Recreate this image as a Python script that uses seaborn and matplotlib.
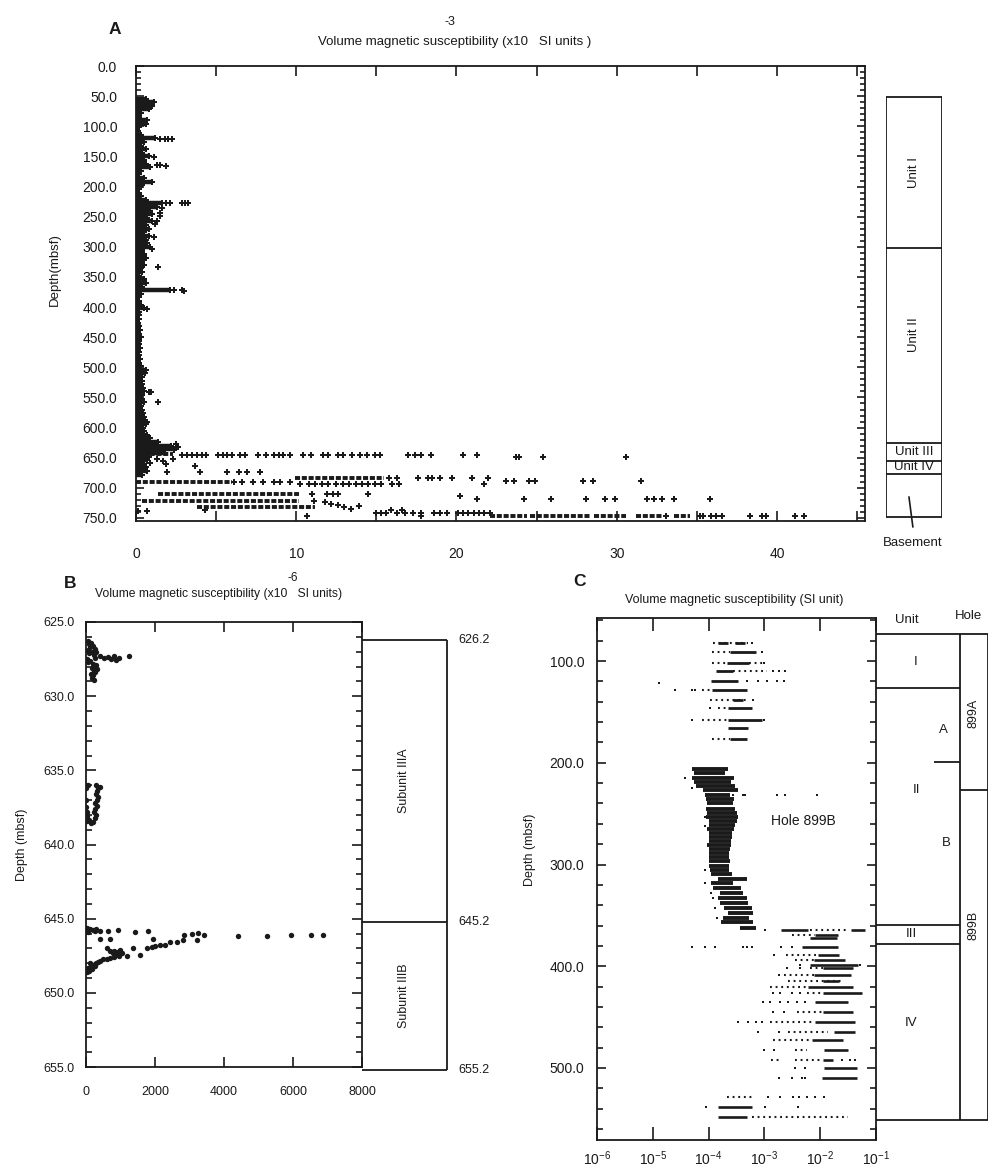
import numpy as np
import pandas as pd
import seaborn as sns
import matplotlib.pyplot as plt
from matplotlib.ticker import MultipleLocator, FuncFormatter, NullLocator, LogLocator

# ---------------- panel A : whole hole, x10^-3 SI ----------------
# near-zero column: depth of each row and right edge of the black band
a_col_depth = [54, 60, 66, 72, 78, 84, 90, 96, 102, 108,
               114, 120, 126, 132, 138, 144, 150, 156, 162, 168,
               174, 180, 186, 192, 198, 204, 210, 216, 222, 228,
               234, 240, 246, 252, 258, 264, 270, 276, 282, 288,
               294, 300, 306, 312, 318, 324, 330, 336, 342, 348,
               354, 360, 366, 372, 378, 384, 390, 396, 402, 408,
               414, 420, 426, 432, 438, 444, 450, 456, 462, 468,
               474, 480, 486, 492, 498, 504, 510, 516, 522, 528,
               534, 540, 546, 552, 558, 564, 570, 576, 582, 588,
               594, 600, 606, 612, 618, 624, 630, 636, 642, 648,
               654, 660, 666, 672, 678]
a_col_hi = [0.6, 1.1, 1.0, 0.8, 0.3, 0.2, 0.7, 0.6, 0.2, 0.15,
            0.3, 1.2, 0.5, 0.3, 0.6, 0.4, 0.8, 0.5, 0.6, 0.9,
            0.3, 0.2, 0.5, 1.0, 0.4, 0.2, 0.2, 0.3, 0.6, 1.6,
            1.3, 0.9, 1.0, 0.7, 1.0, 0.6, 0.8, 0.5, 0.8, 0.6,
            0.7, 0.9, 0.4, 0.5, 0.6, 0.4, 0.5, 0.3, 0.4, 0.2,
            0.5, 0.6, 0.4, 2.1, 0.3, 0.2, 0.2, 0.3, 0.5, 0.2,
            0.2, 0.2, 0.15, 0.2, 0.25, 0.2, 0.3, 0.2, 0.2, 0.25,
            0.2, 0.2, 0.25, 0.2, 0.3, 0.6, 0.55, 0.4, 0.35, 0.4,
            0.45, 0.5, 0.4, 0.35, 0.5, 0.3, 0.4, 0.45, 0.5, 0.55,
            0.6, 0.45, 0.5, 0.7, 0.9, 1.4, 2.2, 2.4, 1.8, 0.8,
            0.7, 0.5, 0.6, 0.7, 0.4]

# dense runs of overlapping points
a_run_depth = [644, 684, 690, 710, 722, 732, 746, 746, 746, 746, 746]
a_run_lo = [0.0, 9.9, 0.0, 1.4, 0.4, 3.8, 22.1, 24.6, 28.6, 31.2, 33.6]
a_run_hi = [2.3, 15.5, 6.0, 10.2, 10.2, 11.2, 24.4, 28.4, 30.6, 32.8, 34.6]

# single points, grouped by depth row
a_row_depth = [121, 151, 165, 166, 227, 228, 236, 244, 249, 258, 262, 283, 303, 334,
               372, 373, 404, 541, 558, 590, 628, 633, 638, 646, 649, 652, 655, 658,
               660, 664, 674, 684, 688, 690, 693, 710, 714, 719, 722, 724, 726, 729,
               730, 732, 735, 736, 737, 738, 741, 746, 747]
a_row_chi = [
    [1.5, 1.8, 2.0, 2.25], [1.1], [1.3, 1.5], [1.9], [1.9, 2.1], [2.9, 3.05, 3.25],
    [1.6], [1.5], [1.5], [1.3], [1.2], [1.1], [1.0], [1.4],
    [2.4, 2.85], [3.0], [0.7], [0.8, 0.95], [1.35], [0.7],
    [2.5], [2.6], [2.4],
    [2.85, 3.2, 3.5, 3.8, 4.1, 4.4, 5.1, 5.4, 5.7, 6.0, 6.5, 6.8, 7.6, 8.1, 8.6, 8.9,
     9.2, 9.6, 10.4, 10.9, 11.7, 12.0, 12.6, 12.9, 13.5, 14.0, 14.4, 14.9, 15.2, 17.0,
     17.4, 17.8, 18.4, 20.4, 21.3],
    [23.7, 23.9, 25.4, 30.6],
    [1.3, 2.3], [1.7], [0.9], [1.9], [3.7],
    [1.95, 4.0, 5.7, 6.4, 6.9, 7.75],
    [15.8, 16.3, 17.6, 18.2, 18.5, 19.0, 19.7, 21.0, 22.0],
    [23.1, 23.6, 24.5, 24.9, 27.9, 28.5, 31.5],
    [6.1, 6.6, 7.3, 7.9, 8.6, 9.0, 9.6],
    [10.25, 10.8, 11.2, 11.6, 12.0, 12.5, 12.9, 13.3, 13.7, 14.1, 14.5, 14.9, 15.3,
     16.0, 16.4, 21.7],
    [11.0, 11.9, 12.3, 12.6, 14.5],
    [20.25],
    [21.3, 24.2, 25.9, 28.1, 29.3, 29.9, 31.9, 32.3, 32.8, 33.6, 35.8],
    [11.1], [11.8], [12.2], [12.6], [13.9], [13.0], [13.4],
    [4.3], [15.9, 16.6], [0.15, 0.7],
    [15.0, 15.3, 15.6, 16.3, 16.8, 17.3, 17.8, 18.6, 19.0, 19.4, 20.1, 20.4, 20.7,
     21.1, 21.4, 21.7, 22.1],
    [33.1, 35.2, 35.4, 35.9, 36.2, 36.6, 38.3, 39.1, 39.3, 41.1, 41.7],
    [10.7, 17.8],
]

# unit column beside A
a_unit_edges = [51.4, 302, 626.2, 655.2, 677, 748]
a_unit_names = ['Unit I', 'Unit II', 'Unit III', 'Unit IV']
a_unit_label_depth = [176, 446, 640.7, 666]

# ---------------- panel B : unit III, x10^-6 SI ----------------
b_depth = [
    626.3, 626.4, 626.5, 626.6, 626.7, 626.8, 626.9, 627.0, 627.0, 627.1, 627.2,
    627.3, 627.45, 627.35, 627.5, 627.3, 627.55, 627.4, 627.3,
    627.5, 627.6, 627.45, 627.7, 627.8, 627.9, 628.0, 628.1, 628.2, 628.3, 628.4,
    628.5, 628.6, 628.75, 628.9,
    636.0, 636.0, 636.0, 636.1, 636.2, 636.2, 636.4, 636.6, 636.8, 637.0, 637.0,
    637.2, 637.4, 637.5, 637.6, 637.8, 637.8, 638.0, 638.0, 638.1, 638.2, 638.3,
    638.35, 638.4, 638.5, 638.55,
    645.65, 645.7, 645.75, 645.7, 645.8, 645.9, 645.85, 645.8, 645.75, 645.9, 645.8,
    646.1, 646.0, 645.95, 646.1, 646.15, 646.2, 646.1, 646.1, 646.1, 646.4, 646.4, 646.4,
    646.45, 646.45, 646.55, 646.6, 646.75, 646.8, 646.85, 646.9, 647.0, 647.0, 647.45,
    647.55, 647.1, 647.2, 647.3, 647.25, 647.15, 647.3, 647.0, 647.2, 647.4, 647.5,
    647.6, 647.65, 647.7, 647.75, 647.85, 647.9, 648.0, 648.05, 648.15, 648.2, 648.3,
    648.35, 648.45, 648.55, 648.0, 648.2, 648.4, 648.5, 648.6,
]
b_chi = [
    50, 150, 80, 200, 120, 250, 60, 180, 300, 100, 230,
    420, 520, 640, 720, 800, 860, 950, 1250,
    20, 120, 250, 60, 200, 300, 250, 180, 320, 220, 260,
    150, 200, 180, 230,
    0, 60, 300, 400, 360, 0, 330, 300, 350, 320, 10,
    270, 320, 0, 260, 230, 20, 300, 10, 30, 250, 20,
    100, 30, 200, 150,
    30, 120, 200, 300, 400, 60, 250, 640, 930, 1420, 1790,
    2850, 3070, 3240, 3420, 4410, 5250, 5940, 6520, 6870, 400, 700, 1950,
    3210, 2820, 2630, 2440, 2290, 2150, 2000, 1900, 1760, 1370, 1570,
    1180, 990, 990, 1050, 900, 800, 790, 600, 700, 850, 950,
    800, 700, 600, 500, 420, 350, 300, 250, 200, 150, 100,
    50, 30, 60, 120, 260, 180, 100, 20,
]
b_sub_edges = [626.2, 645.2, 655.2]
b_sub_names = ['Subunit IIIA', 'Subunit IIIB']

# ---------------- panel C : hole 899B, SI ----------------
# solid streaks (dense dots)
c1_run_depth = [82, 82, 91, 102, 110, 120, 128.5, 138, 146.5, 158, 166, 177]
c1_run_lo = [1.5e-4, 3.0e-4, 2.4e-4, 2.1e-4, 1.35e-4, 1.1e-4, 1.13e-4, 2.75e-4, 2.2e-4, 2.2e-4, 2.2e-4, 2.4e-4]
c1_run_hi = [2.2e-4, 4.5e-4, 7.2e-4, 5.4e-4, 2.75e-4, 3.4e-4, 4.8e-4, 4.2e-4, 5.9e-4, 8.9e-4, 5.1e-4, 4.8e-4]

c2_run_depth = [206, 210, 215, 219, 223, 227, 232, 236, 240, 245,
                249, 253, 257, 261, 265, 269, 273, 277, 281, 285,
                289, 293, 297, 301, 305, 309, 314, 318, 323, 328,
                333, 338, 343, 348, 353, 357, 362]
c2_run_lo = [5.0e-5, 5.5e-5, 5.0e-5, 5.5e-5, 6.0e-5, 8.0e-5, 8.7e-5, 9.0e-5, 9.3e-5, 9.0e-5,
             9.3e-5, 9.0e-5, 1.0e-4, 1.0e-4, 9.5e-5, 1.0e-4, 1.0e-4, 1.0e-4, 9.5e-5, 1.0e-4,
             1.0e-4, 1.0e-4, 1.0e-4, 1.0e-4, 1.05e-4, 1.1e-4, 1.5e-4, 1.1e-4, 1.2e-4, 1.6e-4,
             1.5e-4, 1.6e-4, 1.9e-4, 2.2e-4, 1.8e-4, 1.7e-4, 3.6e-4]
c2_run_hi = [2.2e-4, 2.0e-4, 2.8e-4, 2.5e-4, 3.0e-4, 3.3e-4, 2.4e-4, 2.8e-4, 2.7e-4, 3.0e-4,
             3.2e-4, 3.4e-4, 3.2e-4, 3.0e-4, 2.8e-4, 2.6e-4, 2.6e-4, 2.5e-4, 2.5e-4, 2.4e-4,
             2.3e-4, 2.3e-4, 2.4e-4, 2.3e-4, 2.3e-4, 2.6e-4, 4.8e-4, 2.7e-4, 3.8e-4, 4.2e-4,
             4.8e-4, 5.0e-4, 5.9e-4, 6.3e-4, 5.4e-4, 6.3e-4, 7.2e-4]

c4_run_depth = [364, 364, 369, 372.6, 381, 389, 394, 399, 402, 408.6, 415, 420, 426, 435,
                444.7, 454.5, 464.3, 472.5, 482.3, 492.1, 500.3, 510.1, 538.6, 548.4]
c4_run_lo = [2.0e-3, 3.6e-2, 8e-3, 6.6e-3, 4.7e-3, 9e-3, 7.6e-3, 6.6e-3, 1.1e-2, 7.6e-3, 1.1e-2,
             6e-3, 1.1e-2, 8.1e-3, 1.1e-2, 8e-3, 1.8e-2, 7e-3, 1.15e-2, 1.1e-2, 1.15e-2, 1.07e-2,
             1.5e-4, 1.5e-4]
c4_run_hi = [6.0e-3, 6.3e-2, 2.1e-2, 2.0e-2, 2.1e-2, 2.2e-2, 2.75e-2, 4.8e-2, 3.9e-2, 3.6e-2,
             2.2e-2, 3.9e-2, 5.5e-2, 3.2e-2, 3.9e-2, 4.2e-2, 4.2e-2, 2.6e-2, 3.2e-2, 1.7e-2,
             4.5e-2, 4.5e-2, 5.9e-4, 4.8e-4]

# dotted streaks (loose dots)
c_dot_depth = [82, 91, 102, 102, 110, 128.5, 138, 146.5, 158, 177,
               364, 369, 389, 394, 402, 408.6, 415, 420, 426, 444.7, 454.5, 464.3,
               472.5, 482.3, 492.1, 492.1, 529, 548.4]
c_dot_lo = [1.2e-4, 1.13e-4, 1.13e-4, 5.4e-4, 2.75e-4, 7.6e-5, 1.06e-4, 1.5e-4, 7.6e-5, 1.13e-4,
            6.6e-3, 3.1e-3, 2.4e-3, 3.5e-3, 6.6e-3, 2.2e-3, 2.7e-3, 1.26e-3, 5.8e-3, 3.8e-3,
            1.26e-3, 2.7e-3, 1.45e-3, 3.5e-3, 1.3e-3, 3.5e-3, 2.1e-4, 6.0e-4]
c_dot_hi = [5.1e-4, 2.4e-4, 2.1e-4, 1.0e-3, 1.1e-3, 1.1e-4, 5.4e-4, 2.2e-4, 2.2e-4, 2.4e-4,
            3.2e-2, 8e-3, 9e-3, 7.6e-3, 1.1e-2, 7.6e-3, 2.6e-2, 6e-3, 1.1e-2, 1.1e-2,
            8e-3, 1.4e-2, 7e-3, 5.8e-3, 2.0e-3, 1.1e-2, 5.9e-4, 3.2e-2]

# isolated dots, grouped by depth row
c_row_depth = [82, 91, 102, 110, 120, 122, 128.5, 138, 146.5, 158,
               215, 225, 232, 253, 262, 305, 318, 328, 333, 343, 353,
               364, 381, 389, 399, 402, 408.6, 426, 435, 444.7, 454.5, 464.3,
               482.3, 492.1, 500.3, 510.1, 529, 538.6]
c_row_chi = [
    [5.9e-4], [8.9e-4], [1.0e-3], [1.45e-3, 1.8e-3, 2.35e-3],
    [4.8e-4, 7.8e-4, 1.1e-3, 1.66e-3, 2.2e-3], [1.3e-5], [2.5e-5, 5.0e-5, 5.8e-5],
    [6.3e-4], [1.06e-4], [5.0e-5, 1.0e-3],
    [3.8e-5], [5.0e-5], [2.75e-4, 4.2e-4, 4.5e-4, 1.66e-3, 2.3e-3, 8.7e-3],
    [8.7e-5], [8.7e-5], [8.7e-5], [8.7e-5], [1.1e-4], [1.2e-4], [1.3e-4], [1.4e-4],
    [1.02e-3], [5.0e-5, 8.7e-5, 1.3e-4, 4.2e-4, 4.8e-4, 6.0e-4, 2.0e-3, 3.1e-3],
    [1.5e-3], [4.4e-3, 5.1e-2], [2.5e-3, 4.4e-3], [1.8e-3],
    [1.45e-3, 1.9e-3, 3.1e-3, 4.4e-3], [9.5e-4, 1.26e-3, 1.9e-3, 2.7e-3, 3.8e-3, 5.4e-3],
    [1.45e-3, 2.2e-3], [3.4e-4, 5.1e-4, 7.2e-4, 8.9e-4], [7.8e-4, 1.8e-3],
    [1.0e-3, 1.5e-3], [2.45e-2, 3.4e-2, 4.2e-2], [3.5e-3, 5.4e-3],
    [1.8e-3, 3.1e-3, 4.7e-3, 5.4e-3], [1.17e-3, 1.9e-3, 3.3e-3, 4.1e-3, 5.8e-3, 8.1e-3, 1.15e-2],
    [9.1e-5, 1.02e-3, 4.0e-3],
]

# unit / hole columns beside C
c_unit_edges = [73.5, 126.5, 359.5, 378.1, 551]
c_sub_edge = 199.3
c_hole_edges = [73.5, 226.8, 551]
c_unit_names = ['I', 'A', 'II', 'B', 'III', 'IV']
c_unit_label_depth = [101, 168, 227, 279, 368, 456]
c_unit_label_x = [0.35, 0.6, 0.36, 0.625, 0.32, 0.31]
c_hole_names = ['899A', '899B']
c_hole_label_depth = [151, 360]


def rows_frame(depths, rows):
    sizes = [len(r) for r in rows]
    return pd.DataFrame({'depth': np.repeat(depths, sizes), 'chi': np.concatenate(rows)})


sns.set_theme(style="ticks")
plt.rcParams['font.family'] = ['Liberation Sans', 'DejaVu Sans']
plt.rcParams['mathtext.default'] = 'regular'

INK = '#1a1a1a'
W, H = 1004, 1175


def box(l, t, r, b):
    return [l / W, 1 - b / H, (r - l) / W, (b - t) / H]


def style_axes(ax):
    for s in ax.spines.values():
        s.set_color(INK)
        s.set_linewidth(1.3)
    ax.set_xlabel('')
    ax.set_ylabel('')


fig = plt.figure(figsize=(W / 100, H / 100), dpi=100)
fig.patch.set_facecolor('white')

# ---- A ----
axA = fig.add_axes(box(136, 66, 865, 521))
axA.hlines(a_col_depth, 0, a_col_hi, color=INK, lw=3.2)
# beaded look for the deep rows of overlapping '+' marks
axA.hlines(a_run_depth, a_run_lo, a_run_hi, color=INK, lw=2.8, linestyles=[(0, (1.3, 0.45))])
sns.scatterplot(x=a_col_hi, y=a_col_depth, marker='P', s=16, color=INK, linewidth=0, ax=axA)
dfa = rows_frame(a_row_depth, a_row_chi)
sns.scatterplot(data=dfa, x='chi', y='depth', marker='P', s=16, color=INK, linewidth=0, ax=axA)
axA.set_xlim(0, 45.5)
axA.set_ylim(755, 0)
axA.xaxis.set_major_locator(MultipleLocator(5))
axA.xaxis.set_major_formatter(FuncFormatter(lambda v, p: f'{v:.0f}' if round(v) % 10 == 0 else ''))
axA.yaxis.set_major_locator(MultipleLocator(50))
axA.yaxis.set_minor_locator(MultipleLocator(10))
axA.yaxis.set_major_formatter(FuncFormatter(lambda v, p: f'{v:.1f}'))
axA.tick_params(which='both', direction='in', top=True, right=True, color=INK, width=1.2,
                labelcolor=INK, labelsize=10)
axA.tick_params(axis='x', which='major', length=7.5, pad=19)
axA.tick_params(axis='y', which='major', length=6, pad=13.5)
axA.tick_params(axis='y', which='minor', length=3.5)
style_axes(axA)

colA = fig.add_axes(box(886, 66, 942, 521))
colA.set_xlim(0, 1)
colA.set_ylim(755, 0)
colA.axis('off')
colA.hlines(a_unit_edges, 0, 1, color=INK, lw=1.3)
colA.vlines([0, 1], a_unit_edges[0], a_unit_edges[-1], color=INK, lw=1.3)
for name, d in zip(a_unit_names, a_unit_label_depth):
    rot = 90 if name in ('Unit I', 'Unit II') else 0
    colA.text(0.5, d, name, rotation=rot, ha='center', va='center', fontsize=9.5, color=INK)
colA.plot([0.41, 0.48], [715, 765], color=INK, lw=1.2, clip_on=False)
colA.text(0.48, 792, 'Basement', ha='center', va='center', fontsize=9.5, color=INK, clip_on=False)

fig.text(115 / W, 1 - 30 / H, 'A', fontsize=12.5, fontweight='bold', ha='center', va='center', color=INK)
fig.text(455 / W, 1 - 42 / H, 'Volume magnetic susceptibility (x10   SI units )', fontsize=9.5,
         ha='center', va='center', color=INK)
fig.text(450 / W, 1 - 22 / H, '-3', fontsize=9, ha='center', va='center', color=INK)
fig.text(55 / W, 1 - 270 / H, 'Depth(mbsf)', rotation=90, fontsize=9.5, ha='center', va='center', color=INK)

# ---- B ----
axB = fig.add_axes(box(86, 622, 362, 1067))
sns.scatterplot(x=b_chi, y=b_depth, marker='o', s=15, color=INK, linewidth=0, ax=axB)
axB.set_xlim(0, 8000)
axB.set_ylim(655, 625)
axB.xaxis.set_major_locator(MultipleLocator(2000))
axB.yaxis.set_major_locator(MultipleLocator(5))
axB.yaxis.set_minor_locator(MultipleLocator(1))
axB.yaxis.set_major_formatter(FuncFormatter(lambda v, p: f'{v:.1f}'))
axB.tick_params(which='both', direction='in', top=True, right=True, color=INK, width=1.2,
                labelcolor=INK, labelsize=9)
axB.tick_params(axis='x', which='major', length=7.5, pad=13.5)
axB.tick_params(axis='y', which='major', length=7.5, pad=8)
axB.tick_params(axis='y', which='minor', length=4.5)
style_axes(axB)

colB = fig.add_axes(box(362, 622, 447, 1067))
colB.set_xlim(0, 1)
colB.set_ylim(655, 625)
colB.axis('off')
colB.hlines(b_sub_edges, 0, 1, color=INK, lw=1.3, clip_on=False)
colB.vlines([1], b_sub_edges[0], b_sub_edges[-1], color=INK, lw=1.3, clip_on=False)
for d in b_sub_edges:
    colB.text(1.13, d, f'{d:.1f}', ha='left', va='center', fontsize=9, color=INK, clip_on=False)
for i, name in enumerate(b_sub_names):
    mid = (b_sub_edges[i] + b_sub_edges[i + 1]) / 2
    colB.text(0.49, mid, name, rotation=90, ha='center', va='center', fontsize=9, color=INK)

fig.text(70 / W, 1 - 583 / H, 'B', fontsize=12.5, fontweight='bold', ha='center', va='center', color=INK)
fig.text(219 / W, 1 - 594 / H, 'Volume magnetic susceptibility (x10   SI units)', fontsize=8.7,
         ha='center', va='center', color=INK)
fig.text(293 / W, 1 - 578 / H, '-6', fontsize=8.5, ha='center', va='center', color=INK)
fig.text(22 / W, 1 - 845 / H, 'Depth (mbsf)', rotation=90, fontsize=9, ha='center', va='center', color=INK)

# ---- C ----
axC = fig.add_axes(box(597, 618, 876, 1140))
axC.set_xscale('log')
axC.hlines(c1_run_depth, c1_run_lo, c1_run_hi, color=INK, lw=2.0)
axC.hlines(c2_run_depth, c2_run_lo, c2_run_hi, color=INK, lw=2.8)
axC.hlines(c4_run_depth, c4_run_lo, c4_run_hi, color=INK, lw=1.9)
axC.hlines(c_dot_depth, c_dot_lo, c_dot_hi, color=INK, lw=1.5, linestyles=[(0, (0.9, 1.8))])
dfc = rows_frame(c_row_depth, c_row_chi)
sns.scatterplot(data=dfc, x='chi', y='depth', marker='s', s=3.5, color=INK, linewidth=0, ax=axC)
axC.set_xlim(1e-6, 1e-1)
axC.set_ylim(570.8, 57.7)
axC.xaxis.set_major_locator(LogLocator(base=10, numticks=10))
axC.xaxis.set_minor_locator(NullLocator())
axC.xaxis.set_major_formatter(FuncFormatter(lambda v, p: f'$10^{{{int(round(np.log10(v)))}}}$'))
axC.yaxis.set_major_locator(MultipleLocator(100))
axC.yaxis.set_minor_locator(MultipleLocator(20))
axC.yaxis.set_major_formatter(FuncFormatter(lambda v, p: f'{v:.1f}'))
axC.tick_params(which='both', direction='in', top=True, right=True, color=INK, width=1.2,
                labelcolor=INK, labelsize=10)
axC.tick_params(axis='x', which='major', length=9.5, pad=7)
axC.tick_params(axis='y', which='major', length=6.5, pad=9)
axC.tick_params(axis='y', which='minor', length=4.3)
axC.text(1.3e-3, 257, 'Hole 899B', ha='left', va='center', fontsize=10, color=INK)
style_axes(axC)

colC = fig.add_axes(box(876, 618, 988, 1140))
colC.set_xlim(0, 1)
colC.set_ylim(570.8, 57.7)
colC.axis('off')
colC.hlines(c_unit_edges, 0, 0.75, color=INK, lw=1.3)
colC.hlines([c_sub_edge], 0.518, 0.75, color=INK, lw=1.3)
colC.hlines(c_hole_edges, 0.75, 1.0, color=INK, lw=1.3)
colC.vlines([0.75, 1.0], c_unit_edges[0], c_unit_edges[-1], color=INK, lw=1.3)
for name, d, x in zip(c_unit_names, c_unit_label_depth, c_unit_label_x):
    colC.text(x, d, name, ha='center', va='center', fontsize=9.5, color=INK)
for name, d in zip(c_hole_names, c_hole_label_depth):
    colC.text(0.875, d, name, rotation=90, ha='center', va='center', fontsize=9, color=INK)
colC.text(0.277, 59.5, 'Unit', ha='center', va='center', fontsize=9.5, color=INK, clip_on=False)
colC.text(0.83, 55.5, 'Hole', ha='center', va='center', fontsize=9.5, color=INK, clip_on=False)

fig.text(580 / W, 1 - 581 / H, 'C', fontsize=12.5, fontweight='bold', ha='center', va='center', color=INK)
fig.text(734 / W, 1 - 600 / H, 'Volume magnetic susceptibility (SI unit)', fontsize=9,
         ha='center', va='center', color=INK)
fig.text(530 / W, 1 - 850 / H, 'Depth (mbsf)', rotation=90, fontsize=9, ha='center', va='center', color=INK)

fig.savefig('out.png', dpi=100, facecolor='white')
